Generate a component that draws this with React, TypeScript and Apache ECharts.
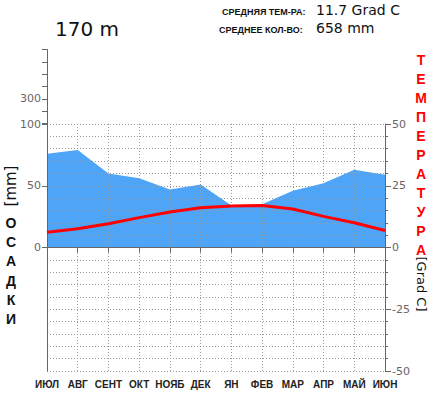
import React, { useEffect, useRef } from "react";
import * as echarts from "echarts";

const months = ["ИЮЛ", "АВГ", "СЕНТ", "ОКТ", "НОЯБ", "ДЕК", "ЯН", "ФЕВ", "МАР", "АПР", "МАЙ", "ИЮН"];
const precipitation = [76, 79, 60, 56, 47, 51, 34, 35, 46, 52, 63, 59];
const temperature = [6.2, 7.6, 9.6, 12.1, 14.4, 16.1, 16.8, 17.0, 15.6, 12.6, 10.0, 6.9];
const precipTicks = [0, 50, 100];
const upperTickLabels = [300];
const tempLabels = [-50, -25, 0, 25, 50];

const GRAY = "#666";
const DOT = "#9a9a9a";

export default function App() {
  const ref = useRef<HTMLDivElement>(null);
  useEffect(() => {
    if (!ref.current) return;
    const chart = echarts.init(ref.current, undefined, { renderer: "svg" });
    const axisLabelBase = { color: GRAY, fontSize: 11, fontFamily: "DejaVu Sans" };
    chart.setOption({
      animation: false,
      backgroundColor: "#fff",
      grid: [
        { left: 47, right: 51, top: 124, bottom: 28 },
        { left: 47, right: 51, top: 124, height: 123.5 },
        { left: 47, width: 1, top: 49.5, height: 74 },
      ],
      xAxis: [
        {
          gridIndex: 0,
          type: "category",
          data: months,
          boundaryGap: false,
          position: "bottom",
          z: 3,
          axisLine: { show: true, lineStyle: { color: GRAY, width: 1 } },
          axisTick: { show: true, length: 5, interval: 0, lineStyle: { color: GRAY } },
          axisLabel: {
            interval: 0,
            margin: 8,
            color: "#222",
            fontSize: 10,
            fontWeight: "bold",
            fontFamily: "Liberation Sans",
          },
          splitLine: { show: true, interval: 0, lineStyle: { color: DOT, type: [1, 2] } },
        },
        {
          gridIndex: 1,
          type: "category",
          data: months,
          boundaryGap: false,
          position: "top",
          z: 3,
          axisLine: { show: true, lineStyle: { color: GRAY, width: 1 } },
          axisTick: { show: false },
          axisLabel: { show: false },
          splitLine: { show: false },
        },
        {
          gridIndex: 2,
          type: "category",
          data: [""],
          show: false,
        },
      ],
      yAxis: [
        {
          gridIndex: 0,
          type: "value",
          position: "right",
          min: -50,
          max: 50,
          interval: 25,
          z: 3,
          axisLine: { show: true, lineStyle: { color: GRAY } },
          axisTick: { show: true, length: 6, lineStyle: { color: GRAY } },
          minorTick: { show: true, splitNumber: 5, length: 3, lineStyle: { color: GRAY } },
          axisLabel: {
            ...axisLabelBase,
            margin: 7,
            formatter: (v: number) => (tempLabels.includes(v) ? String(v) : ""),
          },
          splitLine: { show: true, lineStyle: { color: DOT, type: [1, 2] } },
          minorSplitLine: { show: true, lineStyle: { color: DOT, type: [1, 2] } },
        },
        {
          gridIndex: 0,
          type: "value",
          position: "left",
          min: -100,
          max: 100,
          interval: 50,
          z: 3,
          axisLine: { show: true, lineStyle: { color: GRAY } },
          axisTick: { show: false },
          axisLabel: { show: false },
          splitLine: { show: false },
        },
        {
          gridIndex: 1,
          type: "value",
          position: "left",
          min: 0,
          max: 100,
          interval: 50,
          z: 3,
          axisLine: { show: true, lineStyle: { color: GRAY } },
          axisTick: { show: true, length: 5, lineStyle: { color: GRAY } },
          axisLabel: {
            ...axisLabelBase,
            margin: 6,
            formatter: (v: number) => (precipTicks.includes(v) ? String(v) : ""),
          },
          splitLine: { show: false },
        },
        {
          gridIndex: 2,
          type: "value",
          position: "left",
          min: 100,
          max: 700,
          interval: 100,
          z: 3,
          axisLine: { show: true, lineStyle: { color: GRAY } },
          axisTick: { show: true, length: 5, lineStyle: { color: GRAY } },
          axisLabel: {
            ...axisLabelBase,
            margin: 6,
            formatter: (v: number) => (upperTickLabels.includes(v) ? String(v) : ""),
          },
          splitLine: { show: false },
        },
      ],
      series: [
        {
          type: "line",
          name: "precipitation",
          xAxisIndex: 1,
          yAxisIndex: 2,
          data: precipitation,
          symbol: "none",
          z: 1,
          lineStyle: { width: 0, color: "#4ea5f7" },
          areaStyle: { color: "#4ea5f7", opacity: 1 },
        },
        {
          type: "line",
          name: "temperature",
          xAxisIndex: 0,
          yAxisIndex: 0,
          data: temperature,
          symbol: "none",
          z: 5,
          lineStyle: { width: 3, color: "#ff0000" },
        },
      ],
      graphic: [
        {
          type: "text",
          left: 55,
          top: 19,
          style: { text: "170 m", fontSize: 20, fontFamily: "DejaVu Sans", fill: "#111" },
        },
        {
          type: "text",
          left: 222,
          top: 7,
          style: { text: "СРЕДНЯЯ ТЕМ-РА:", fontSize: 9, fontWeight: "bold", fontFamily: "Liberation Sans", fill: "#111" },
        },
        {
          type: "text",
          left: 316,
          top: 3,
          style: { text: "11.7 Grad C", fontSize: 14, fontFamily: "DejaVu Sans", fill: "#111" },
        },
        {
          type: "text",
          left: 219,
          top: 25,
          style: { text: "СРЕДНЕЕ КОЛ-ВО:", fontSize: 9, fontWeight: "bold", fontFamily: "Liberation Sans", fill: "#111" },
        },
        {
          type: "text",
          left: 316,
          top: 21,
          style: { text: "658 mm", fontSize: 14, fontFamily: "DejaVu Sans", fill: "#111" },
        },
        {
          type: "text",
          x: 11,
          y: 186,
          rotation: Math.PI / 2,
          style: { text: "[mm]", fontSize: 15, fontFamily: "DejaVu Sans", fill: "#111", align: "center", verticalAlign: "middle" },
        },
        {
          type: "text",
          x: 11,
          y: 213,
          style: {
            text: "О\nС\nА\nД\nК\nИ",
            fontSize: 14,
            fontWeight: "bold",
            fontFamily: "Liberation Sans",
            fill: "#111",
            align: "center",
            lineHeight: 19.3,
          },
        },
        {
          type: "text",
          x: 421,
          y: 50,
          style: {
            text: "Т\nЕ\nМ\nП\nЕ\nР\nА\nТ\nУ\nР\nА",
            fontSize: 14,
            fontWeight: "bold",
            fontFamily: "Liberation Sans",
            fill: "#ff0000",
            align: "center",
            lineHeight: 19,
          },
        },
        {
          type: "text",
          x: 421,
          y: 284,
          rotation: -Math.PI / 2,
          style: { text: "[Grad C]", fontSize: 13, fontFamily: "DejaVu Sans", fill: "#111", align: "center", verticalAlign: "middle" },
        },
      ],
    });
    return () => chart.dispose();
  }, []);
  return <div ref={ref} style={{ width: 436, height: 399, position: "absolute", left: 0, top: 0 }} />;
}
